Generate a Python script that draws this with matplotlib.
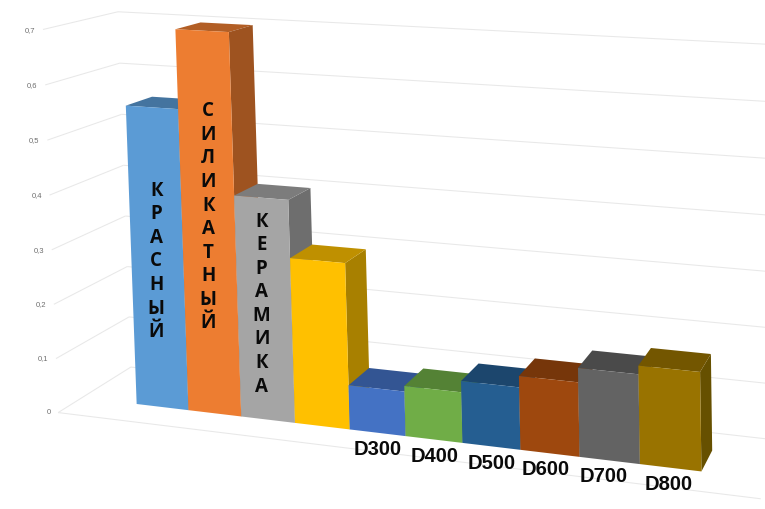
import numpy as np
import matplotlib
matplotlib.use("Agg")
import matplotlib.pyplot as plt
from mpl_toolkits.mplot3d.art3d import Line3DCollection

categories = ["КРАСНЫЙ", "СИЛИКАТНЫЙ", "КЕРАМИКА", "", "D300", "D400", "D500", "D600", "D700", "D800"]
values = [0.555, 0.70, 0.405, 0.30, 0.08, 0.09, 0.11, 0.13, 0.155, 0.17]
tick_values = [0, 0.1, 0.2, 0.3, 0.4, 0.5, 0.6, 0.7]
tick_labels = ["0", "0,1", "0,2", "0,3", "0,4", "0,5", "0,6", "0,7"]

front_colors = ["#5B9BD5", "#ED7D31", "#A5A5A5", "#FFC000", "#4472C4",
                "#70AD47", "#255E91", "#9E480E", "#636363", "#997300"]
top_colors = ["#44749F", "#B25E25", "#7C7C7C", "#BF9000", "#335593",
              "#548235", "#1C466D", "#76360A", "#4A4A4A", "#735600"]
side_colors = ["#3D6A91", "#9E5320", "#6E6E6E", "#A88000", "#2D4B82",
               "#4A7230", "#183E60", "#683009", "#424242", "#665000"]

# floor extent in bar units, bars sit on x=i..i+1, y=0..1
X_L, X_R = -1.07, 11.07
Y_F, Y_B = -0.85, 1.85
W, H = 765, 510

# camera calibration: world point -> picture pixel
calib = []
for i, (u, v) in enumerate([(136, 403), (187, 410), (240, 416), (293, 423), (347, 430), (402, 438),
                            (459, 445), (517, 452), (576, 459), (636, 467), (698, 475)]):
    calib.append((i, 0, 0, u, v))
for k, (u, v) in enumerate([(60, 409), (58, 358), (55, 305), (53, 252), (49, 198), (46, 143), (43, 87), (40, 30)]):
    calib.append((X_L, Y_F, k / 10, u, v))
for k, (u, v) in enumerate([(133, 367), (130, 318), (128, 269), (125, 219), (122, 168), (119, 116), (116, 64), (113, 11)]):
    calib.append((X_L, Y_B, k / 10, u, v))
calib += [(10, 1, 0, 710, 455), (X_R, Y_B, 0, 783, 446), (X_R, Y_B, 0.7, 769, 45), (X_R, Y_F, 0, 762, 503)]
# bar tops, these count most
tops = [(0, 0, 0, 125, 106), (0, 1, 0, 153, 97), (1, 0, 1, 175, 31), (2, 0, 1, 230, 33), (2, 1, 1, 255, 26),
        (1, 1, 1, 202, 23), (3, 0, 2, 289, 204), (3, 1, 2, 313, 190), (4, 0, 3, 345, 264), (4, 1, 3, 367, 249),
        (9, 0, 9, 639, 365), (10, 0, 9, 702, 371), (10, 1, 9, 714, 354), (9, 1, 9, 654, 347)]
for x, y, idx, u, v in tops:
    calib += [(x, y, values[idx], u, v)] * 3


def fit_camera(points):
    rows = []
    for x, y, z, u, v in points:
        rows.append([x, y, z, 1, 0, 0, 0, 0, -u * x, -u * y, -u * z, -u])
        rows.append([0, 0, 0, 0, x, y, z, 1, -v * x, -v * y, -v * z, -v])
    return np.linalg.svd(np.array(rows, dtype=float))[2][-1].reshape(3, 4)


plt.rcParams["font.family"] = ["Open Sans", "DejaVu Sans"]

fig = plt.figure(figsize=(W / 100, H / 100), dpi=100)
ax = fig.add_axes([0, -0.25, 1, 1.5], projection="3d", computed_zorder=False)
ax.set_axis_off()
ax.patch.set_visible(False)

# pixels -> 2d view limits of the square axes, which is W px wide and centred on the figure
P = fit_camera(calib)
x0, x1 = ax.viewLim.intervalx
y0, y1 = ax.viewLim.intervaly
sx = (x1 - x0) / W
sy = (y1 - y0) / W
to_view = np.array([[sx, 0, x0], [0, -sy, y0 + sy * (H + (W - H) / 2)], [0, 0, 1]])
V = to_view @ P
M = np.vstack([V[0], V[1], [0, 1, 0, 0], V[2]])
ax.get_proj = lambda: M


def label(x, y, z, s, **kw):
    u, v, w = P @ [x, y, z, 1]
    fig.text(u / w / W, 1 - v / w / H, s, **kw)


segments = [[(X_L, Y_F, 0), (X_R, Y_F, 0)]]
for z in tick_values:
    segments.append([(X_L, Y_F, z), (X_L, Y_B, z)])
    segments.append([(X_L, Y_B, z), (X_R, Y_B, z)])
ax.add_collection3d(Line3DCollection(segments, colors="#E8E8E8", linewidths=0.75, zorder=1))

for z, lab in zip(tick_values, tick_labels):
    label(X_L - 0.15, Y_F, z, lab, ha="right", va="center", fontsize=5.5, color="#6E6E6E",
          family=["Liberation Sans"])

for i, val in enumerate(values):
    # faces: bottom, top, front, back, left, right
    faces = ["none", top_colors[i], front_colors[i], "none", "none", side_colors[i]]
    ax.bar3d(i, 0, 0, 1, 1, val, color=faces, shade=False, linewidth=0, zorder=2 + i)

text_x = [0.48, 0.50, 0.45]
text_z = [0.273, 0.363, 0.213]
for i, name in enumerate(categories[:3]):
    label(i + text_x[i], 0, text_z[i], "\n".join(name), ha="center", va="center", fontsize=13.5,
          fontweight="bold", color="#0A0A0A", linespacing=1.236)

label_dx = [0.76, 0.75, 0.71, 0.61, 0.57, 0.61]
for i, name in enumerate(categories[4:]):
    label(i + 4 + label_dx[i], -0.7, 0, name, ha="center", va="center", fontsize=14.5, fontweight="bold",
          color="#0A0A0A", family=["Liberation Sans"])

fig.savefig("out.png", dpi=100)
plt.close(fig)
